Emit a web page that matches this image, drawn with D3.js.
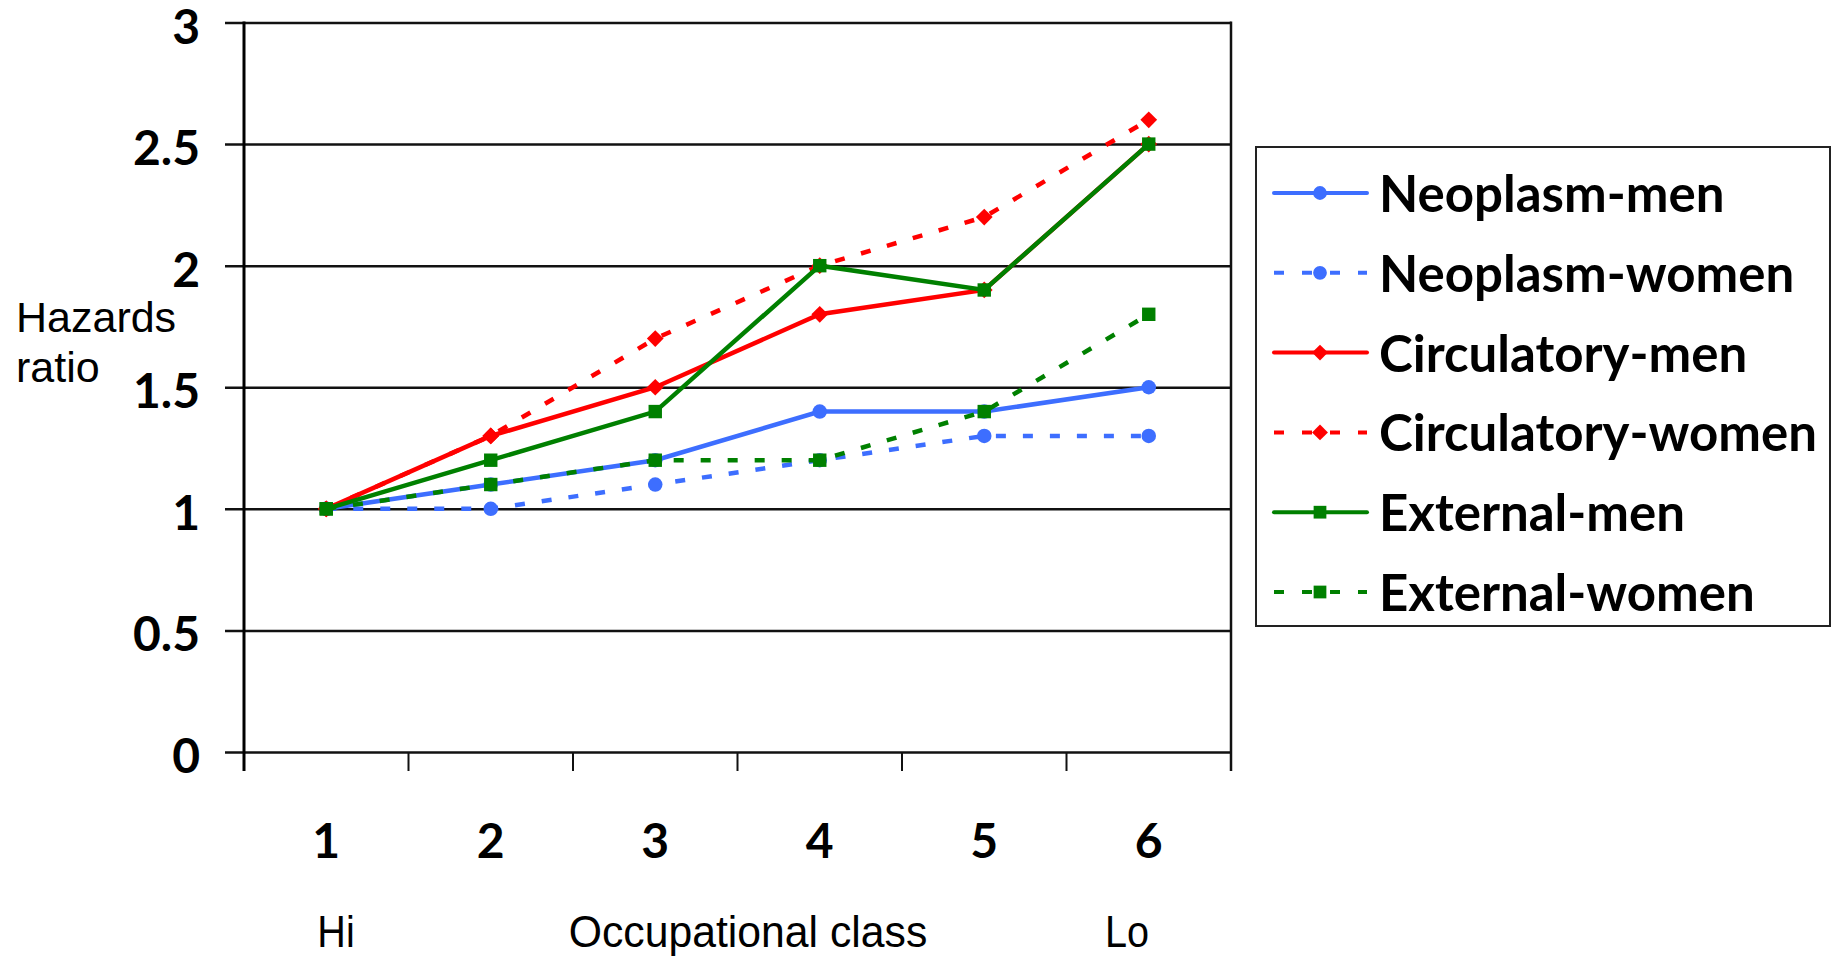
<!DOCTYPE html>
<html>
<head>
<meta charset="utf-8">
<script src="https://cdn.jsdelivr.net/npm/d3@7"></script>
<style>
  html, body { margin: 0; padding: 0; background: #ffffff; }
  svg { display: block; }
</style>
</head>
<body>
<svg id="chart" width="1841" height="957"></svg>
<script>
// Occupational classes (1 = highest, 6 = lowest)
const classes = ["1", "2", "3", "4", "5", "6"];

// Hazard ratios by cause of death and sex
const neoplasmMen       = [1.0, 1.1, 1.2, 1.4, 1.4, 1.5];
const neoplasmWomen     = [1.0, 1.0, 1.1, 1.2, 1.3, 1.3];
const circulatoryMen    = [1.0, 1.3, 1.5, 1.8, 1.9, 2.5];
const circulatoryWomen  = [1.0, 1.3, 1.7, 2.0, 2.2, 2.6];
const externalMen       = [1.0, 1.2, 1.4, 2.0, 1.9, 2.5];
const externalWomen     = [1.0, 1.1, 1.2, 1.2, 1.4, 1.8];

const seriesNames = ["Neoplasm-men", "Neoplasm-women", "Circulatory-men",
                     "Circulatory-women", "External-men", "External-women"];
const yTicks = [0, 0.5, 1, 1.5, 2, 2.5, 3];

const BLUE = "#3d6eff", RED = "#ff0000", GREEN = "#008000";
const series = [
  { name: seriesNames[0], values: neoplasmMen,      color: BLUE,  dashed: false, shape: "circle" },
  { name: seriesNames[1], values: neoplasmWomen,    color: BLUE,  dashed: true,  shape: "circle" },
  { name: seriesNames[2], values: circulatoryMen,   color: RED,   dashed: false, shape: "diamond" },
  { name: seriesNames[3], values: circulatoryWomen, color: RED,   dashed: true,  shape: "diamond" },
  { name: seriesNames[4], values: externalMen,      color: GREEN, dashed: false, shape: "square" },
  { name: seriesNames[5], values: externalWomen,    color: GREEN, dashed: true,  shape: "square" }
];

const svg = d3.select("#chart");
const BOLD = "Lato, 'Open Sans', sans-serif";
const PLAIN = "'Liberation Sans', Arial, sans-serif";

// Plot area
const plotLeft = 244, plotRight = 1231, plotTop = 22.5, plotBottom = 752;
const x = d3.scaleBand().domain(classes).range([plotLeft, plotRight]).padding(0);
const y = d3.scaleLinear().domain([0, 3]).range([plotBottom, plotTop]);
const cx = c => x(c) + x.bandwidth() / 2;

// Horizontal gridlines with left tick stubs, and y tick labels
const yAxis = d3.axisLeft(y).tickValues(yTicks).tickSize(0).tickFormat(d3.format("~g"));
const gy = svg.append("g").attr("transform", `translate(${plotLeft - 19},0)`).call(yAxis);
gy.select(".domain").remove();
gy.selectAll(".tick line")
  .attr("x1", 0).attr("x2", plotRight - plotLeft + 19)
  .attr("stroke", "#111").attr("stroke-width", 2.5);
gy.selectAll(".tick text")
  .attr("x", 200 - (plotLeft - 19)).attr("dy", null).attr("y", 20.5)
  .attr("text-anchor", "end")
  .style("font-family", BOLD).style("font-weight", 700).style("font-size", "48px").attr("fill", "#000");

// Vertical axis lines (left and right)
svg.append("line").attr("x1", plotLeft).attr("x2", plotLeft).attr("y1", plotTop - 1).attr("y2", plotBottom + 19)
  .attr("stroke", "#000").attr("stroke-width", 3);
svg.append("line").attr("x1", plotRight).attr("x2", plotRight).attr("y1", plotTop - 1).attr("y2", plotBottom + 19)
  .attr("stroke", "#111").attr("stroke-width", 2.5);

// Category boundary ticks below the x axis
const bounds = classes.map(c => x(c)).concat([plotRight]);
svg.append("g").selectAll("line").data(bounds.slice(1, -1)).join("line")
  .attr("x1", d => d).attr("x2", d => d).attr("y1", plotBottom).attr("y2", plotBottom + 19)
  .attr("stroke", "#111").attr("stroke-width", 2);

// Category labels
svg.append("g").selectAll("text").data(classes).join("text")
  .attr("x", d => cx(d)).attr("y", 858).attr("text-anchor", "middle")
  .style("font-family", BOLD).style("font-weight", 700).style("font-size", "48px")
  .text(d => d);

// Axis titles
const hz = svg.append("text")
  .style("font-family", PLAIN).style("font-size", "43px").attr("fill", "#000");
hz.append("tspan").attr("x", 16).attr("y", 332).text("Hazards");
hz.append("tspan").attr("x", 16).attr("y", 382).text("ratio");

const bottomLabels = [
  { text: "Hi", x: 336, sx: 0.88 },
  { text: "Occupational class", x: 748, sx: 0.95 },
  { text: "Lo", x: 1127, sx: 0.88 }
];
svg.append("g").selectAll("text").data(bottomLabels).join("text")
  .attr("transform", d => `translate(${d.x},947) scale(${d.sx},1)`)
  .attr("text-anchor", "middle")
  .style("font-family", PLAIN).style("font-size", "45px")
  .text(d => d.text);

// Marker symbols
function marker(sel, shape, color, scale) {
  const s = scale || 1;
  let path;
  if (shape === "circle") path = d3.symbol(d3.symbolCircle, 165 * s * s)();
  else if (shape === "square") path = d3.symbol(d3.symbolSquare, 180 * s * s)();
  else path = d3.symbol(d3.symbolSquare, 140 * s * s)();
  return sel.append("path").attr("d", path).attr("fill", color)
    .attr("transform", shape === "diamond" ? "rotate(45)" : null);
}

const line = d3.line().x((d, i) => cx(classes[i])).y(d => y(d));

// Series: line then markers, in series order
series.forEach(s => {
  const g = svg.append("g");
  g.append("path").datum(s.values).attr("d", line)
    .attr("fill", "none").attr("stroke", s.color).attr("stroke-width", 4.5)
    .attr("stroke-dasharray", s.dashed ? "10,17" : null);
  s.values.forEach((v, i) => {
    const m = g.append("g").attr("transform", `translate(${cx(classes[i])},${y(v)})`);
    marker(m, s.shape, s.color, 1);
  });
});

// Legend
const lg = svg.append("g");
lg.append("rect").attr("x", 1256).attr("y", 147).attr("width", 574).attr("height", 479)
  .attr("fill", "#fff").attr("stroke", "#222").attr("stroke-width", 2);
series.forEach((s, i) => {
  const ry = 193 + i * 79.8;
  lg.append("line").attr("x1", 1274).attr("x2", 1367).attr("y1", ry).attr("y2", ry)
    .attr("stroke", s.color).attr("stroke-width", 4)
    .attr("stroke-linecap", s.dashed ? "butt" : "round")
    .attr("stroke-dasharray", s.dashed ? "10,18" : null);
  const m = lg.append("g").attr("transform", `translate(1320,${ry})`);
  marker(m, s.shape, s.color, 0.95);
  lg.append("text").attr("x", 1379).attr("y", ry + 19)
    .style("font-family", BOLD).style("font-weight", 700).style("font-size", "51px")
    .text(s.name);
});
</script>
</body>
</html>
